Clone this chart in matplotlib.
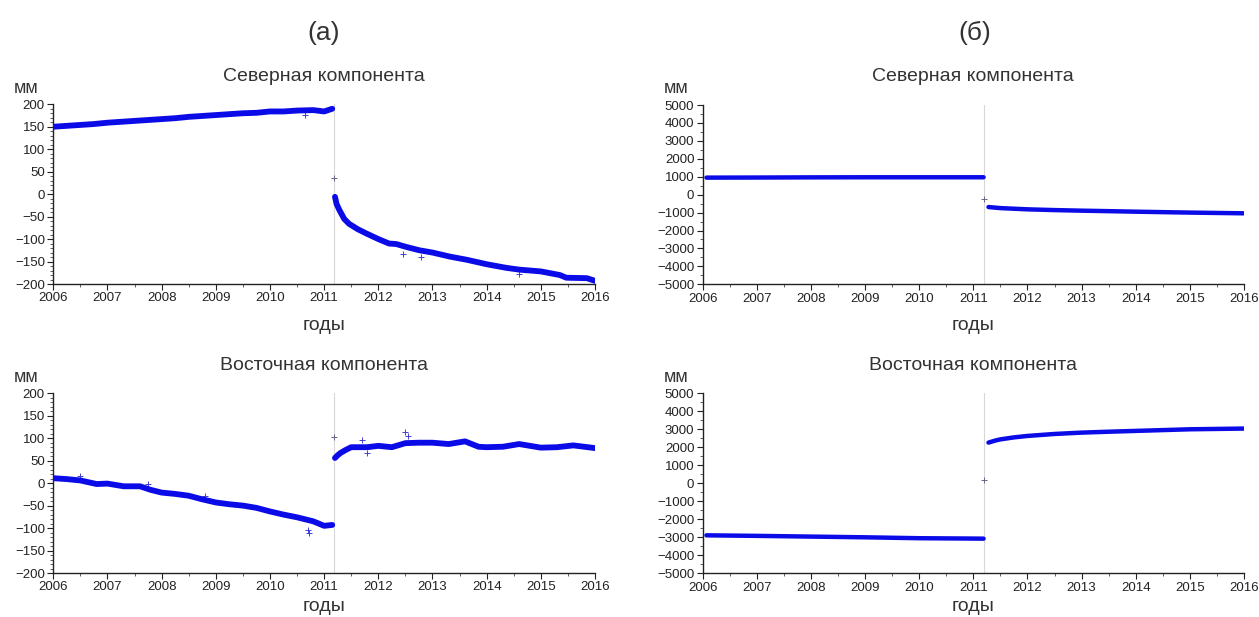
import matplotlib
matplotlib.use("Agg")
from matplotlib import pyplot as plt
from matplotlib.ticker import MultipleLocator
import numpy as np

plt.rcParams['font.family'] = ['Liberation Sans', 'DejaVu Sans']

QUAKE = 2011.19
BLUE = '#0b0be8'

# (а) северная компонента, мм
a_n_pre_t = [2006.0, 2006.25, 2006.5, 2006.75, 2007.0, 2007.25, 2007.5, 2007.75, 2008.0, 2008.25,
             2008.5, 2008.75, 2009.0, 2009.25, 2009.5, 2009.75, 2010.0, 2010.25, 2010.5, 2010.8,
             2011.0, 2011.15]
a_n_pre_v = [150, 152, 154, 156, 159, 161, 163, 165, 167, 169,
             172, 174, 176, 178, 180, 181, 184, 184, 186, 187,
             184, 190]
a_n_post_t = [2011.2, 2011.23, 2011.28, 2011.37, 2011.46, 2011.62, 2011.77, 2012.0, 2012.2, 2012.33,
              2012.5, 2012.76, 2013.0, 2013.32, 2013.63, 2014.0, 2014.36, 2014.6, 2015.0, 2015.35,
              2015.47, 2015.85, 2016.0]
a_n_post_v = [-6, -22, -35, -55, -66, -78, -87, -100, -110, -111,
              -117, -125, -130, -139, -146, -156, -164, -168, -172, -180,
              -186, -187, -193]
a_n_out_t = [2010.65, 2012.45, 2012.78, 2014.6]
a_n_out_v = [176, -133, -139, -178]

# (а) восточная компонента, мм
a_e_pre_t = [2006.0, 2006.25, 2006.5, 2006.8, 2007.0, 2007.3, 2007.6, 2007.8, 2008.0, 2008.25,
             2008.5, 2008.75, 2009.0, 2009.25, 2009.5, 2009.75, 2010.0, 2010.25, 2010.5, 2010.8,
             2011.0, 2011.15]
a_e_pre_v = [11, 9, 6, -2, -1, -7, -7, -15, -21, -24,
             -28, -36, -43, -47, -50, -55, -63, -70, -76, -85,
             -95, -93]
a_e_post_t = [2011.2, 2011.25, 2011.3, 2011.4, 2011.5, 2011.8, 2012.0, 2012.25, 2012.5, 2012.75,
              2013.0, 2013.3, 2013.6, 2013.85, 2014.0, 2014.3, 2014.6, 2015.0, 2015.3, 2015.6,
              2016.0]
a_e_post_v = [56, 62, 67, 74, 80, 80, 83, 80, 89, 90,
              90, 87, 93, 81, 80, 81, 87, 79, 80, 84,
              78]
a_e_out_t = [2006.5, 2007.75, 2008.8, 2010.7, 2010.72, 2011.7, 2012.5, 2012.55, 2011.8]
a_e_out_v = [17, -2, -28, -105, -110, 95, 113, 104, 66]

# (б) северная компонента, мм
b_n_pre_t = [2006.07, 2007.0, 2008.0, 2009.0, 2010.0, 2011.0, 2011.19]
b_n_pre_v = [950, 955, 965, 970, 970, 970, 970]
b_n_post_t = [2011.28, 2011.5, 2012.0, 2012.5, 2013.0, 2013.5, 2014.0, 2014.5, 2015.0, 2015.5, 2016.0]
b_n_post_v = [-690, -750, -818, -860, -893, -920, -949, -975, -1000, -1020, -1040]

# (б) восточная компонента, мм
b_e_pre_t = [2006.07, 2007.0, 2008.0, 2009.0, 2010.0, 2011.0, 2011.19]
b_e_pre_v = [-2890, -2920, -2960, -3000, -3050, -3070, -3075]
b_e_post_t = [2011.28, 2011.4, 2011.5, 2011.75, 2012.0, 2012.5, 2013.0, 2013.5, 2014.0, 2014.5, 2015.0, 2015.5, 2016.0]
b_e_post_v = [2260, 2370, 2440, 2550, 2630, 2740, 2815, 2865, 2910, 2955, 3000, 3020, 3040]

# отсчёт в момент землетрясения
jump_a = [37, 102]
jump_b = [-220, 190]

panels = [
    ([0.0423, 0.5397, 0.4303, 0.2913], a_n_pre_t, a_n_pre_v, a_n_post_t, a_n_post_v, a_n_out_t, a_n_out_v, jump_a[0], 200, 50, 10, 4.2, 'Северная компонента', 9),
    ([0.0423, 0.0713, 0.4303, 0.2913], a_e_pre_t, a_e_pre_v, a_e_post_t, a_e_post_v, a_e_out_t, a_e_out_v, jump_a[1], 200, 50, 10, 4.2, 'Восточная компонента', 3),
    ([0.5581, 0.5392, 0.4300, 0.2906], b_n_pre_t, b_n_pre_v, b_n_post_t, b_n_post_v, [], [], jump_b[0], 5000, 1000, 500, 3.2, 'Северная компонента', 9),
    ([0.5581, 0.0708, 0.4300, 0.2918], b_e_pre_t, b_e_pre_v, b_e_post_t, b_e_post_v, [], [], jump_b[1], 5000, 1000, 500, 3.2, 'Восточная компонента', 3),
]

fig = plt.figure(figsize=(12.59, 6.17), dpi=100)

for rect, t1, v1, t2, v2, to, vo, vj, lim, major, minor, lw, title, xpad in panels:
    ax = fig.add_axes(rect)
    ax.axvline(QUAKE, color='#d8d8d8', lw=0.8, zorder=1)
    ax.plot(t1, v1, color=BLUE, lw=lw, solid_capstyle='round', zorder=3)
    ax.plot(t2, v2, color=BLUE, lw=lw, solid_capstyle='round', zorder=3)
    if to:
        ax.plot(to, vo, '+', color='#4040d0', ms=4, mew=0.7, zorder=2)
    ax.plot([QUAKE], [vj], '+', color='#666688', ms=4, mew=0.7, zorder=2)

    ax.set_xlim(2006, 2016)
    ax.set_ylim(-lim, lim)
    ax.xaxis.set_major_locator(MultipleLocator(1))
    ax.xaxis.set_minor_locator(MultipleLocator(0.5))
    ax.yaxis.set_major_locator(MultipleLocator(major))
    ax.yaxis.set_minor_locator(MultipleLocator(minor))
    for s in ['top', 'right']:
        ax.spines[s].set_visible(False)
    for s in ['left', 'bottom']:
        ax.spines[s].set_color('#222222')
        ax.spines[s].set_linewidth(1.0)
    ax.tick_params(which='major', length=4, width=0.8, color='#222222', labelsize=9.5, labelcolor='#222222', pad=2)
    ax.tick_params(which='minor', length=2.5, width=0.6, color='#444444')
    ax.set_xlabel('годы', fontsize=14, color='#333333', labelpad=xpad)
    ax.set_title(title, fontsize=14, color='#333333', pad=17)
    ax.text(-0.072, 1.09, 'мм', transform=ax.transAxes,
            fontsize=13, color='#333333', ha='left', va='center')

fig.text(324 / 1259, 1 - 33 / 617, '(а)', fontsize=19, color='#333333', ha='center', va='center')
fig.text(975 / 1259, 1 - 33 / 617, '(б)', fontsize=19, color='#333333', ha='center', va='center')

fig.savefig('out.png', dpi=100)
